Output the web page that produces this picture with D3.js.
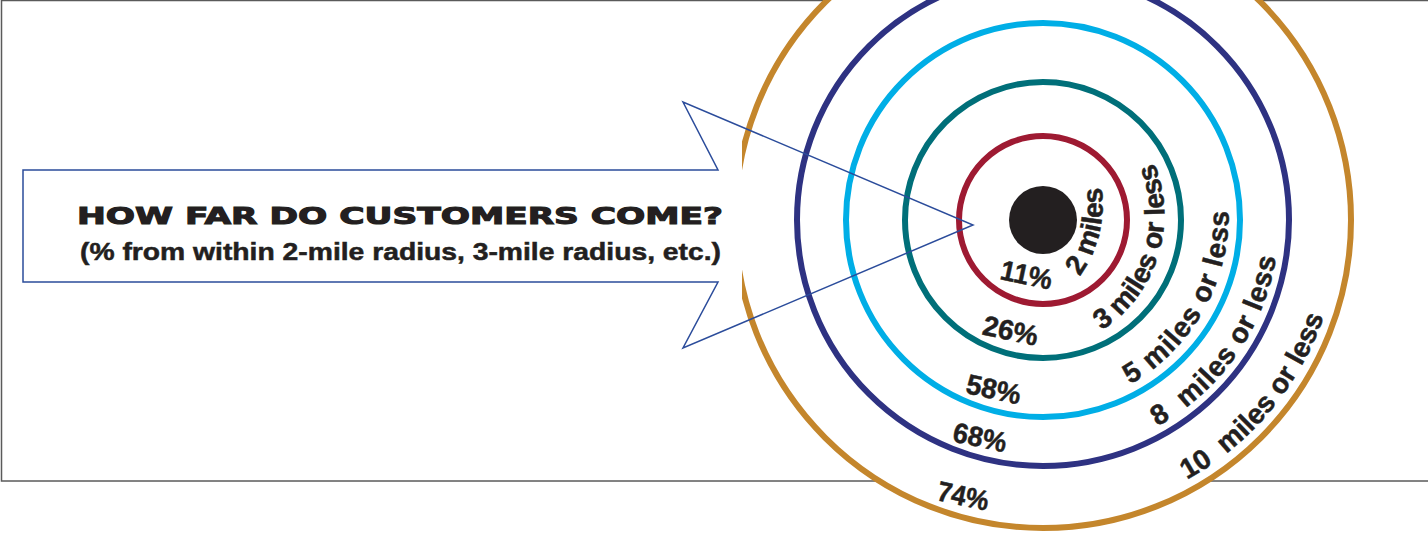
<!DOCTYPE html>
<html>
<head>
<meta charset="utf-8">
<script src="https://cdn.jsdelivr.net/npm/d3@7/dist/d3.min.js"></script>
<style>
  html, body { margin: 0; padding: 0; background: #ffffff; }
  svg { display: block; }
</style>
</head>
<body>
<svg id="chart" width="1428" height="540"></svg>
<script>
// ---------------- data ----------------
const miles = [2, 3, 5, 8, 10];
const ringLabels = ["2 miles", "3 miles or less", "5 miles or less", "8  miles or less", "10  miles or less"];
const percents = [11, 26, 58, 68, 74];
const titleText = "HOW FAR DO CUSTOMERS COME?";
const subtitleText = "(% from within 2-mile radius, 3-mile radius, etc.)";

// ---------------- styles / layout ----------------
const ringColors = ["#9e1a32", "#006f79", "#00aee6", "#2e3282", "#c4862c"];
const ink = "#231f20";
const calloutColor = "#2b4c9b";
const cx = 1043, cy = 220;
const dotR = 34;
const ringPx = [84, 138, 197, 246, 308];
const labelInset = [17, 13, 11, 10, 11];
// angular extent (deg, screen coords) of the ring labels, and curvature factor
const labelArcs = [[57, -29], [62, -27], [62, -3], [61, 9], [61, 19]];
const labelCurve = [1.8, 1.1, 1.05, 1.0, 1.0];
const pctAngle = 106;
const pctRotate = 12;
const pctWidths = [52, 56, 55, 54, 52];
const labelSize = 28;

const svg = d3.select("#chart");
const r = d3.scaleLinear().domain(miles).range(ringPx);
const toRad = d => d * Math.PI / 180;
const polar = (rad, a) => [cx + rad * Math.cos(toRad(a)), cy + rad * Math.sin(toRad(a))];

const defs = svg.append("defs");
defs.append("clipPath").attr("id", "clipL")
  .append("rect").attr("x", 742).attr("y", -20).attr("width", 800).attr("height", 600);

// frame
svg.append("rect")
  .attr("x", 1.5).attr("y", 0.5).attr("width", 1500).attr("height", 480.5)
  .attr("fill", "none").attr("stroke", "#5a5a5a").attr("stroke-width", 1.5);

// rings (outermost first, white filled so the frame is hidden inside)
const rings = svg.append("g").attr("clip-path", "url(#clipL)");
rings.selectAll("circle.ring")
  .data(miles.map((m, i) => ({ m, i })).reverse())
  .join("circle")
  .attr("class", "ring")
  .attr("cx", cx).attr("cy", cy)
  .attr("r", d => r(d.m))
  .attr("fill", d => d.i === miles.length - 1 ? "#ffffff" : "none")
  .attr("stroke", d => ringColors[d.i])
  .attr("stroke-width", 6);

// center dot
svg.append("circle").attr("cx", cx).attr("cy", cy).attr("r", dotR).attr("fill", ink);

// label baselines, just inside each ring
const baseR = i => r(miles[i]) - labelInset[i];

const labelFont = "'Liberation Sans Narrow', 'Arial Narrow', 'Liberation Sans', sans-serif";
const lbl = svg.append("g");

function fitSpacing(textSel, target) {
  const node = textSel.node();
  const nat = node.getComputedTextLength();
  const n = textSel.text().length;
  textSel.style("letter-spacing", ((target - nat) / n) + "px");
}

ringLabels.forEach((t, i) => {
  const rb = baseR(i);
  const [a0, a1] = labelArcs[i];
  const p0 = polar(rb, a0), p1 = polar(rb, a1);
  const chord = Math.hypot(p1[0] - p0[0], p1[1] - p0[1]);
  const rc = Math.max(rb * labelCurve[i], chord / 2 + 0.5);
  const theta = 2 * Math.asin(chord / (2 * rc));
  defs.append("path").attr("id", "ml" + i)
    .attr("d", `M${p0[0]},${p0[1]}A${rc},${rc} 0 0 0 ${p1[0]},${p1[1]}`);
  const txt = lbl.append("text")
    .attr("font-family", labelFont).attr("font-weight", "bold")
    .attr("font-size", labelSize).attr("fill", ink)
    .attr("stroke", ink).attr("stroke-width", 0.5)
    .style("white-space", "pre");
  txt.append("textPath").attr("href", "#ml" + i).attr("startOffset", 0).text(t);
  fitSpacing(txt, rc * theta);
});

percents.forEach((p, i) => {
  const [x, y] = polar(baseR(i), pctAngle);
  lbl.append("text")
    .attr("transform", `translate(${x},${y}) rotate(${pctRotate})`)
    .attr("text-anchor", "middle")
    .attr("font-family", labelFont).attr("font-weight", "bold")
    .attr("font-size", labelSize).attr("fill", ink)
    .attr("stroke", ink).attr("stroke-width", 0.5)
    .attr("textLength", pctWidths[i]).attr("lengthAdjust", "spacingAndGlyphs")
    .text(p + "%");
});

// callout arrow
const callout = [[23, 170], [718, 170], [683, 102], [973, 225], [683, 348], [718, 282], [23, 282]];
svg.append("path")
  .attr("d", d3.line()(callout) + "Z")
  .attr("fill", "none").attr("stroke", calloutColor).attr("stroke-width", 1.5)
  .attr("stroke-linejoin", "miter");

// title texts
svg.append("text")
  .attr("x", 77).attr("y", 224)
  .attr("font-family", "'DejaVu Sans', sans-serif").attr("font-weight", "bold")
  .attr("font-size", 23.5).attr("fill", ink)
  .attr("stroke", ink).attr("stroke-width", 1.1)
  .attr("textLength", 646).attr("lengthAdjust", "spacingAndGlyphs")
  .text(titleText);
svg.append("text")
  .attr("x", 80).attr("y", 260)
  .attr("font-family", "'Liberation Sans', Arial, sans-serif").attr("font-weight", "bold")
  .attr("font-size", 24).attr("fill", ink)
  .attr("stroke", ink).attr("stroke-width", 0.5)
  .attr("textLength", 641).attr("lengthAdjust", "spacingAndGlyphs")
  .text(subtitleText);
</script>
</body>
</html>
